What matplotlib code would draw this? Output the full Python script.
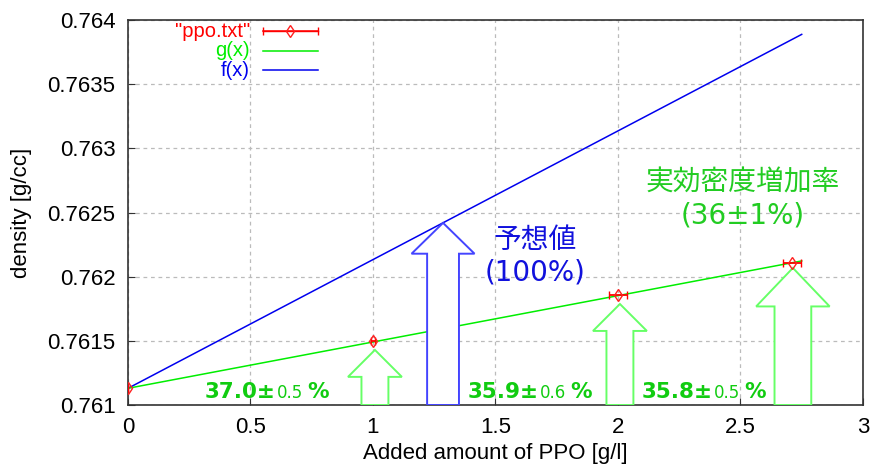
import matplotlib
matplotlib.use("Agg")
import matplotlib.pyplot as plt
import numpy as np
from matplotlib.patches import FancyArrow

# measured densities vs. PPO added
ppo_x = [0.0, 1.0, 2.0, 2.71]
density = [0.76113, 0.76150, 0.76186, 0.76211]
ppo_xerr = [0.0, 0.01, 0.035, 0.037]

# fitted line g(x) and expected line f(x)
intercept = 0.76113
slope_g = 0.000361
slope_f = 0.001003
x_line_end = 2.75

# arrows: (x position, tip value)
green_arrows = [(1.008, 0.761429), (2.008, 0.761787), (2.714, 0.762068)]
blue_arrow = (1.286, 0.762419)

# percentage labels: (x, y, value, uncertainty)
pct_labels = [
    (0.314, 0.761055, "37.0", "0.5"),
    (1.388, 0.761055, "35.9", "0.6"),
    (2.098, 0.761055, "35.8", "0.5"),
]

xticks = [0, 0.5, 1, 1.5, 2, 2.5, 3]
xticklabels = ["0", "0.5", "1", "1.5", "2", "2.5", "3"]
yticks = [0.761, 0.7615, 0.762, 0.7625, 0.763, 0.7635, 0.764]
yticklabels = ["0.761", "0.7615", "0.762", "0.7625", "0.763", "0.7635", "0.764"]

plt.rcParams['font.family'] = ['Liberation Sans', 'DejaVu Sans']

fig = plt.figure(figsize=(8.73, 4.67), dpi=100)
ax = fig.add_axes([0.1466, 0.1328, 0.8419, 0.8243])
ax.set_xlim(0, 3)
ax.set_ylim(0.761, 0.764)

ax.set_xticks(xticks)
ax.set_xticklabels(xticklabels)
ax.set_yticks(yticks)
ax.set_yticklabels(yticklabels)
ax.tick_params(labelsize=16, direction='in', length=5, color='#333333')
ax.tick_params(axis='x', pad=9)
ax.tick_params(axis='y', pad=9)
ax.tick_params(top=False, right=False)
ax.grid(True, color='#bbbbbb', linestyle=(0, (3, 3)), linewidth=0.9)
for sp in ax.spines.values():
    sp.set_color('#333333')
    sp.set_linewidth(1.2)

ax.set_xlabel("Added amount of PPO [g/l]", fontsize=16, labelpad=3)
ax.set_ylabel("density [g/cc]", fontsize=16, labelpad=11)

xl = np.array([0.0, x_line_end])
ax.plot(xl, intercept + slope_f * xl, color='#0000ee', lw=1.1, zorder=3)
ax.plot(xl, intercept + slope_g * xl, color='#00ee00', lw=1.1, zorder=3)

ax.errorbar(ppo_x, density, xerr=ppo_xerr, fmt='d', mfc='none', mec='#ff2020',
            ms=6, mew=1.0, ecolor='#ff0000', elinewidth=1.3, capsize=3,
            capthick=1.3, zorder=5)

ybase = 0.761
def up_arrow(x, tip, head_w, shaft_w, head_l, color):
    a = FancyArrow(x, ybase, 0, tip - ybase, width=shaft_w, head_width=head_w,
                   head_length=head_l, length_includes_head=True,
                   facecolor='white', edgecolor=color, lw=1.4, zorder=4)
    ax.add_patch(a)

up_arrow(green_arrows[0][0], green_arrows[0][1], 0.22, 0.11, 0.00021, '#66ff66')
up_arrow(green_arrows[1][0], green_arrows[1][1], 0.22, 0.11, 0.00021, '#66ff66')
up_arrow(green_arrows[2][0], green_arrows[2][1], 0.30, 0.15, 0.00030, '#66ff66')
up_arrow(blue_arrow[0], blue_arrow[1], 0.257, 0.13, 0.00024, '#4444ff')

# percentage labels with small uncertainty
pc = '#11cc11'
for x, y, val, err in pct_labels:
    t1 = ax.text(x, y, val + "\u00b1", fontsize=15.5, fontweight='bold',
                 color=pc, family='DejaVu Sans', va='baseline', ha='left',
                 zorder=6)
    t2 = ax.annotate(err, xy=(1, 0), xycoords=t1, xytext=(0.5, 0),
                     textcoords='offset points', fontsize=12, color=pc,
                     family='DejaVu Sans', va='bottom', ha='left', zorder=6)
    ax.annotate("%", xy=(1, 0), xycoords=t2, xytext=(3, 0),
                textcoords='offset points', fontsize=15.5, fontweight='bold',
                color=pc, family='DejaVu Sans', va='bottom', ha='left',
                zorder=6)

cjk = ['DejaVu Sans', 'Noto Sans CJK JP']
ax.text(1.661, 0.762286, "予想値", fontsize=20, color='#1111dd', family=cjk,
        ha='center', va='center', zorder=6)
ax.text(1.661, 0.762030, "(100%)", fontsize=20, color='#1111dd', family=cjk,
        ha='center', va='center', zorder=6)
ax.text(2.51, 0.762730, "実効密度増加率", fontsize=20, color='#22cc22', family=cjk,
        ha='center', va='center', zorder=6)
ax.text(2.51, 0.762480, "(36±1%)", fontsize=20, color='#22cc22', family=cjk,
        ha='center', va='center', zorder=6)

# legend, gnuplot style
leg = [("\"ppo.txt\"", '#ff0000', 0.029), ("g(x)", '#00ee00', 0.080),
       ("f(x)", '#0000ee', 0.130)]
tx = (250 - 128) / 735
l0 = (263 - 128) / 735
l1 = (318 - 128) / 735
for label, col, dy in leg:
    yy = 1 - dy
    ax.text(tx, yy, label, transform=ax.transAxes, fontsize=14.5, color=col,
            ha='right', va='center', zorder=7)
    ax.plot([l0, l1], [yy, yy], transform=ax.transAxes, color=col, lw=1.1,
            zorder=7)
ax.plot([l0, l1], [1 - 0.029] * 2, transform=ax.transAxes, color='#ff0000',
        lw=1.0, marker='|', ms=6, markevery=[0, 1], zorder=7)
ax.plot([(l0 + l1) / 2], [1 - 0.029], transform=ax.transAxes, marker='d',
        mfc='none', mec='#ff2020', ms=6, zorder=8)

fig.savefig("out.png", dpi=100)
